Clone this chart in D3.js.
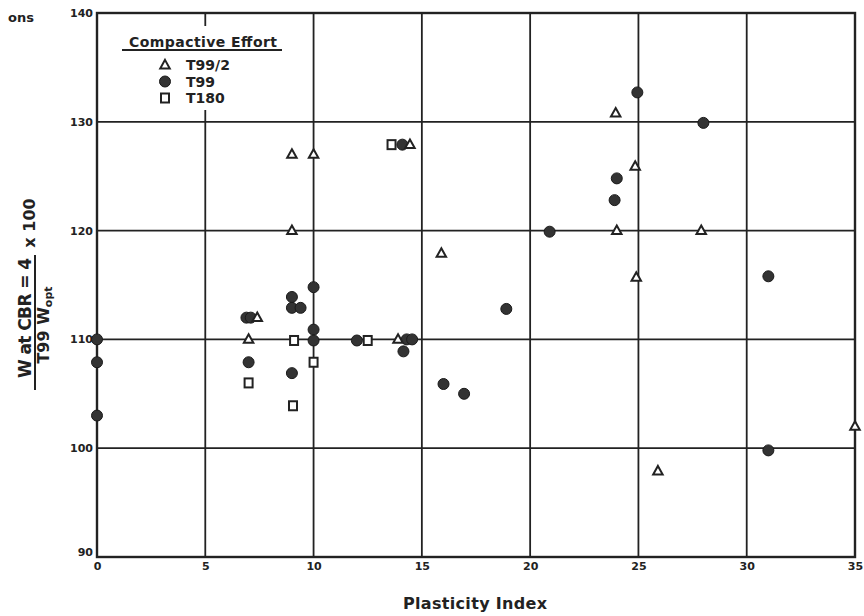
<!DOCTYPE html>
<html>
<head>
<meta charset="utf-8">
<script src="https://cdn.jsdelivr.net/npm/d3@7/dist/d3.min.js"></script>
<style>
  html, body { margin: 0; padding: 0; background: #fff; }
  text { font-family: "DejaVu Sans", "Liberation Sans", sans-serif; font-weight: bold; fill: #222; }
</style>
</head>
<body>
<svg id="chart" width="864" height="616"></svg>
<script>
// Plasticity index vs. moisture ratio, grouped by compactive effort
const xTicks = [0, 5, 10, 15, 20, 25, 30, 35];
const yTicks = [90, 100, 110, 120, 130, 140];

const t99half = [
  [9, 127], [10, 127], [9, 120], [7, 110], [7.4, 112], [13.9, 110],
  [14.45, 127.9], [15.9, 117.9], [23.95, 130.8], [24.85, 125.9],
  [24.0, 120], [27.9, 120], [24.9, 115.7], [25.9, 97.9], [35, 102]
];
const t99 = [
  [0, 110], [0, 107.9], [0, 103], [6.9, 112], [7.1, 112], [7.0, 107.9],
  [9.0, 113.9], [9.0, 112.9], [9.4, 112.9], [9.0, 106.9],
  [10, 114.8], [10, 110.9], [10, 109.9], [12.0, 109.9],
  [14.1, 127.9], [14.3, 110], [14.55, 110], [14.15, 108.9],
  [16.0, 105.9], [16.95, 105.0], [18.9, 112.8], [20.9, 119.9],
  [24.0, 124.8], [23.9, 122.8], [24.95, 132.7], [28.0, 129.9],
  [31.0, 115.8], [31.0, 99.8]
];
const t180 = [
  [13.6, 127.9], [7.0, 106], [9.1, 109.9], [9.05, 103.9],
  [10.0, 107.9], [12.5, 109.9]
];
const legendItems = [
  { label: "T99/2", shape: "triangle" },
  { label: "T99", shape: "circle" },
  { label: "T180", shape: "square" }
];

const ink = "#222";
const svg = d3.select("#chart");

const x = d3.scaleLinear().domain([0, 35]).range([97, 855]);
const y = d3.scaleLinear().domain([90, 140]).range([557, 13]);

// grid lines
const grid = svg.append("g");
grid.selectAll("line.v").data(xTicks.slice(1, -1)).join("line")
  .attr("x1", d => x(d)).attr("x2", d => x(d))
  .attr("y1", y(140)).attr("y2", y(90))
  .attr("stroke", ink).attr("stroke-width", 1.8);
grid.selectAll("line.h").data(yTicks.slice(1, -1)).join("line")
  .attr("x1", x(0)).attr("x2", x(35))
  .attr("y1", d => y(d)).attr("y2", d => y(d))
  .attr("stroke", ink).attr("stroke-width", 1.8);

// legend panel blanks the grid beneath it
svg.append("rect")
  .attr("x", 110).attr("y", 26).attr("width", 185).attr("height", 84)
  .attr("fill", "#fff");

// frame
svg.append("rect")
  .attr("x", x(0)).attr("y", y(140))
  .attr("width", x(35) - x(0)).attr("height", y(90) - y(140))
  .attr("fill", "none").attr("stroke", ink).attr("stroke-width", 2.4);

// axes (labels only; the frame and grid carry the lines)
const xAxis = svg.append("g")
  .attr("transform", `translate(0,${y(90)})`)
  .call(d3.axisBottom(x).tickValues(xTicks).tickSize(0).tickPadding(5));
xAxis.select(".domain").remove();
xAxis.selectAll("text")
  .attr("font-size", 11).attr("font-family", "DejaVu Sans").attr("font-weight", "bold").attr("fill", ink);

const yAxis = svg.append("g")
  .attr("transform", `translate(${x(0)},0)`)
  .call(d3.axisLeft(y).tickValues(yTicks).tickSize(0).tickPadding(4));
yAxis.select(".domain").remove();
yAxis.selectAll("text")
  .attr("font-size", 11).attr("font-family", "DejaVu Sans").attr("font-weight", "bold").attr("fill", ink);
yAxis.selectAll(".tick").filter(d => d === 90).select("text").attr("dy", "-0.1em");

// marker shapes
function triPath(s) {
  const h = s * 0.9;
  return `M0,${-h * 0.6}L${s / 2},${h * 0.4}L${-s / 2},${h * 0.4}Z`;
}
function drawMarker(g, shape) {
  if (shape === "triangle") {
    g.append("path").attr("d", triPath(9.5))
      .attr("fill", "#fff").attr("stroke", ink).attr("stroke-width", 2);
  } else if (shape === "circle") {
    g.append("circle").attr("r", 5.5)
      .attr("fill", "#333").attr("stroke", "#1a1a1a").attr("stroke-width", 1);
  } else {
    g.append("rect").attr("x", -4).attr("y", -4.5).attr("width", 8).attr("height", 9)
      .attr("fill", "#fff").attr("stroke", ink).attr("stroke-width", 2);
  }
}

const pts = svg.append("g");
[[t180, "square"], [t99, "circle"], [t99half, "triangle"]].forEach(([data, shape]) => {
  pts.append("g").selectAll("g").data(data).join("g")
    .attr("transform", d => `translate(${x(d[0])},${y(d[1])})`)
    .each(function () { drawMarker(d3.select(this), shape); });
});

// legend
const lg = svg.append("g");
lg.append("text").attr("x", 129).attr("y", 47)
  .attr("font-size", 14).attr("textLength", 148).attr("lengthAdjust", "spacing")
  .text("Compactive Effort");
lg.append("line").attr("x1", 122).attr("x2", 282).attr("y1", 50).attr("y2", 50)
  .attr("stroke", ink).attr("stroke-width", 1.8);
legendItems.forEach((it, i) => {
  const cy = 65 + i * 16.5;
  const g = lg.append("g").attr("transform", `translate(165,${cy})`);
  drawMarker(g, it.shape);
  lg.append("text").attr("x", 186).attr("y", cy + 5)
    .attr("font-size", 14).text(it.label);
});

// x-axis title
svg.append("text").attr("x", 403).attr("y", 609)
  .attr("font-size", 16).attr("textLength", 144).attr("lengthAdjust", "spacing")
  .text("Plasticity Index");

// y-axis title: ratio written as a fraction, times 100
const yl = svg.append("g").attr("transform", "rotate(-90)");
yl.append("text").attr("x", -318).attr("y", 31).attr("text-anchor", "middle")
  .attr("font-size", 17).attr("textLength", 120).attr("lengthAdjust", "spacing")
  .text("W at CBR = 4");
yl.append("line").attr("x1", -390).attr("x2", -255).attr("y1", 35).attr("y2", 35)
  .attr("stroke", ink).attr("stroke-width", 2);
const den = yl.append("text").attr("x", -325).attr("y", 49).attr("text-anchor", "middle")
  .attr("font-size", 16);
den.append("tspan").text("T99 W");
den.append("tspan").attr("font-size", 11).attr("dy", 3).text("opt");
yl.append("text").attr("x", -223).attr("y", 35).attr("text-anchor", "middle")
  .attr("font-size", 16).text("x 100");

// caption fragment at the top-left edge
svg.append("text").attr("x", 8).attr("y", 22).attr("font-size", 13).text("ons");
</script>
</body>
</html>
